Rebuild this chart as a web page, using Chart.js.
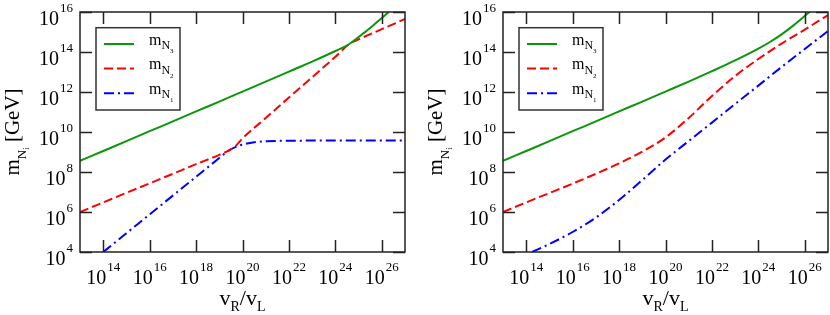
<!DOCTYPE html>
<html><head><meta charset="utf-8">
<script src="https://cdn.jsdelivr.net/npm/chart.js@4/dist/chart.umd.min.js"></script>
<style>
html,body{margin:0;padding:0;background:#fff;font-family:'Liberation Serif','Times New Roman',serif;}
#wrap{position:relative;width:830px;height:315px;overflow:hidden;}
canvas{position:absolute;top:0;}
</style></head><body>
<div id="wrap">
<canvas id="c1" width="415" height="315" style="left:0"></canvas>
<canvas id="c2" width="415" height="315" style="left:415px"></canvas>
</div>
<script>
// tick exponents (labels are 10^exp)
const xTickExps = [14,16,18,20,22,24,26];
const yTickExps = [4,6,8,10,12,14,16];
const legendDigits = ['3','2','1'];

// values as log10 exponents: x = log10(vR/vL), y = log10(m / GeV)
// left panel
const leftN3X = [13,14,15,16,17,18,19,20,21,22,23,24,24.6,25,25.5,26,26.3];
const leftN3Y = [8.56,9.05,9.54,10.04,10.53,11.03,11.52,12.02,12.52,13.02,13.52,14.05,14.4,14.75,15.2,15.7,16.0];
const leftN2X = [13,14,15,16,17,18,19,19.4,19.7,20,21,22,23,24,24.6,25,26,27];
const leftN2Y = [6.0,6.48,6.96,7.43,7.91,8.39,8.86,9.07,9.3,9.68,10.7,11.72,12.74,13.76,14.4,14.63,15.14,15.65];
const leftN1X = [14,15,16,17,18,19,19.4,19.8,20.2,20.6,21,22,23,24,25,26,27];
const leftN1Y = [4.0,4.94,5.88,6.82,7.76,8.7,9.07,9.3,9.42,9.5,9.54,9.56,9.57,9.57,9.57,9.57,9.57];
// right panel
const rightN3X = [13,14,15,16,17,18,19,20,21,22,23,24,24.5,25,25.5,26,26.2];
const rightN3Y = [8.56,9.05,9.54,10.04,10.53,11.03,11.52,12.02,12.52,13.04,13.58,14.17,14.5,14.88,15.32,15.8,16.0];
const rightN2X = [13,14,15,16,17,18,19,20,21,22,23,24,25,26,27];
const rightN2Y = [6.0,6.48,6.95,7.42,7.91,8.43,9.02,9.73,10.7,11.8,12.8,13.65,14.42,15.12,15.85];
const rightN1X = [14.25,15,16,17,18,19,20,21,22,23,24,25,26,27];
const rightN1Y = [4.0,4.4,5.0,5.72,6.6,7.6,8.62,9.55,10.47,11.4,12.32,13.25,14.15,15.05];

const FONT = "'Liberation Serif','Times New Roman',serif";
const GREEN = 'rgb(10,150,10)', RED = '#ff0000', BLUE = '#0000ff';
const DASHES = [[], [9,4], [10,4,2,4]];
const COLORS = [GREEN, RED, BLUE];

function segs(ctx, list, x, y) {
  let w = 0;
  for (const [t, s, dy] of list) {
    ctx.font = s + 'px ' + FONT;
    if (x !== null) ctx.fillText(t, x + w, y + dy);
    w += ctx.measureText(t).width;
  }
  return w;
}

const decor = {
  id: 'decor',
  afterDraw(chart) {
    const ctx = chart.ctx, a = chart.chartArea;
    const xs = chart.scales.x, ys = chart.scales.y;
    ctx.save();
    ctx.strokeStyle = '#222'; ctx.lineWidth = 1.5;
    ctx.beginPath();
    for (const t of xs.ticks) {
      const px = Math.round(xs.getPixelForValue(t.value)) + 0.5;
      ctx.moveTo(px, a.bottom); ctx.lineTo(px, a.bottom - 12);
      ctx.moveTo(px, a.top); ctx.lineTo(px, a.top + 12);
    }
    for (const t of ys.ticks) {
      const py = Math.round(ys.getPixelForValue(t.value)) + 0.5;
      ctx.moveTo(a.left, py); ctx.lineTo(a.left + 12, py);
      ctx.moveTo(a.right, py); ctx.lineTo(a.right - 12, py);
    }
    ctx.stroke();
    ctx.strokeRect(a.left, a.top, a.right - a.left, a.bottom - a.top);

    ctx.fillStyle = '#000'; ctx.textBaseline = 'alphabetic'; ctx.textAlign = 'left';
    for (const t of xs.ticks) {
      const e = String(Math.round(Math.log10(t.value)));
      const px = xs.getPixelForValue(t.value);
      ctx.font = '20px ' + FONT; const w10 = ctx.measureText('10').width;
      ctx.font = '13px ' + FONT; const ws = ctx.measureText(e).width;
      const x0 = px - (w10 + ws + 1) / 2;
      ctx.font = '20px ' + FONT; ctx.fillText('10', x0, a.bottom + 31.6);
      ctx.font = '13px ' + FONT; ctx.fillText(e, x0 + w10 + 1, a.bottom + 19);
    }
    for (const t of ys.ticks) {
      const e = String(Math.round(Math.log10(t.value)));
      const py = ys.getPixelForValue(t.value);
      ctx.font = '13px ' + FONT; const ws = ctx.measureText(e).width;
      ctx.font = '20px ' + FONT; const w10 = ctx.measureText('10').width;
      const xr = a.left - 7;
      ctx.font = '13px ' + FONT; ctx.fillText(e, xr - ws, py);
      ctx.font = '20px ' + FONT; ctx.fillText('10', xr - ws - 1 - w10, py + 13);
    }
    const xt = [['v',22,0],['R',14,6],['/',22,0],['v',22,0],['L',14,6]];
    const xw = segs(ctx, xt, null, 0);
    segs(ctx, xt, (a.left + a.right) / 2 - xw / 2, 305);
    const yt = [['m',21,0],['N',13,7],['i',9,10],[' [GeV]',21,0]];
    ctx.save();
    ctx.translate(a.left - 61.5, (a.top + a.bottom) / 2);
    ctx.rotate(-Math.PI / 2);
    const yw = segs(ctx, yt, null, 0);
    segs(ctx, yt, -yw / 2, 0);
    ctx.restore();

    const bx = a.left + 16, by = 27.7, bw = 84, bh = 82.3;
    ctx.fillStyle = '#fff'; ctx.fillRect(bx, by, bw, bh);
    ctx.strokeStyle = '#333'; ctx.lineWidth = 1.5;
    ctx.strokeRect(bx, by, bw, bh);
    chart.data.datasets.forEach((ds, i) => {
      const ly = by + 16.3 + i * 24.6;
      ctx.save();
      ctx.strokeStyle = ds.borderColor; ctx.lineWidth = 2; ctx.setLineDash(ds.borderDash);
      ctx.beginPath(); ctx.moveTo(bx + 8, ly); ctx.lineTo(bx + 38, ly); ctx.stroke();
      ctx.restore();
      ctx.fillStyle = '#000';
      segs(ctx, [['m',16,0],['N',12,4.6],[legendDigits[i],7,8.4]], bx + 53, ly + 0.5);
    });
    ctx.restore();
  }
};

function makeChart(id, series, yWidth, rightPad) {
  return new Chart(document.getElementById(id), {
    type: 'line',
    data: {
      datasets: series.map((s, i) => ({
        label: 'm_N' + legendDigits[i],
        data: s[0].map((x, k) => ({ x: Math.pow(10, x), y: Math.pow(10, s[1][k]) })),
        borderColor: COLORS[i], borderWidth: 2, borderDash: DASHES[i],
        pointRadius: 0, fill: false, cubicInterpolationMode: 'monotone'
      }))
    },
    options: {
      responsive: false, animation: false, devicePixelRatio: 1,
      layout: { padding: { top: 12, right: rightPad, left: 0, bottom: 0 } },
      plugins: { legend: { display: false }, tooltip: { enabled: false } },
      scales: {
        x: {
          type: 'logarithmic', min: 1e13, max: 1e27,
          grid: { display: false }, border: { display: false }, ticks: { display: false },
          afterBuildTicks: sc => { sc.ticks = xTickExps.map(e => ({ value: Math.pow(10, e) })); },
          afterFit: sc => { sc.height = 63; }
        },
        y: {
          type: 'logarithmic', min: 1e4, max: 1e16,
          grid: { display: false }, border: { display: false }, ticks: { display: false },
          afterBuildTicks: sc => { sc.ticks = yTickExps.map(e => ({ value: Math.pow(10, e) })); },
          afterFit: sc => { sc.width = yWidth; }
        }
      }
    },
    plugins: [decor]
  });
}

makeChart('c1', [[leftN3X, leftN3Y], [leftN2X, leftN2Y], [leftN1X, leftN1Y]], 80, 10);
makeChart('c2', [[rightN3X, rightN3Y], [rightN2X, rightN2Y], [rightN1X, rightN1Y]], 88, 2);
</script>
</body></html>
